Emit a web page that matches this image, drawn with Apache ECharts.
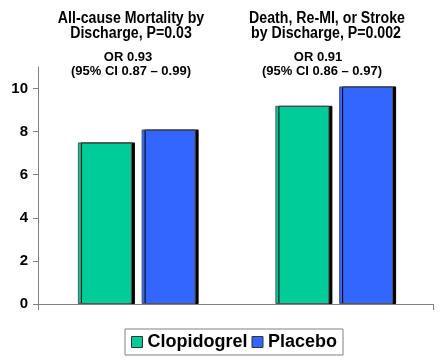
<!DOCTYPE html>
<html>
<head>
<meta charset="utf-8">
<script src="https://cdn.jsdelivr.net/npm/echarts@6/dist/echarts.min.js"></script>
<style>
html,body{margin:0;padding:0;background:#fff;}
#c{width:444px;height:363px;}
</style>
</head>
<body>
<div id="c"></div>
<script>
var categories = ['All-cause Mortality by Discharge', 'Death, Re-MI, or Stroke by Discharge'];
var clopidogrel = [7.5, 9.2];
var placebo = [8.1, 10.1];
var yTicks = [0, 2, 4, 6, 8, 10];
var titleLines1 = ['All-cause Mortality by', 'Discharge, P=0.03'];
var titleLines2 = ['Death, Re-MI, or Stroke', 'by Discharge, P=0.002'];
var orLines1 = ['OR 0.93', '(95% CI 0.87 \u2013 0.99)'];
var orLines2 = ['OR 0.91', '(95% CI 0.86 \u2013 0.97)'];

var FONT = 'Liberation Sans, Arial, sans-serif';
var chart = echarts.init(document.getElementById('c'), null, {renderer: 'canvas'});

function bigText(t, x, y) {
  return {type: 'text', x: x, y: y, scaleX: 0.885, z: 10,
    style: {text: t, x: 0, y: 0, textAlign: 'center', textVerticalAlign: 'middle',
      fontFamily: FONT, fontWeight: 'bold', fontSize: 16, fill: '#000'}};
}
function smallText(t, x, y) {
  return {type: 'text', x: x, y: y, z: 10,
    style: {text: t, x: 0, y: 0, textAlign: 'center', textVerticalAlign: 'middle',
      fontFamily: FONT, fontWeight: 'bold', fontSize: 13, fill: '#000'}};
}

var barStyle = function (color) {
  return {color: color, borderColor: '#555', borderWidth: 1,
    shadowColor: '#000', shadowBlur: 0, shadowOffsetX: 3, shadowOffsetY: 0};
};

chart.setOption({
  animation: false,
  backgroundColor: '#fff',
  grid: {left: 38, right: 11, top: 67, bottom: 59, containLabel: false},
  graphic: [
    bigText(titleLines1[0], 131, 18.2),
    bigText(titleLines1[1], 131, 33.8),
    bigText(titleLines2[0], 327, 18.2),
    bigText(titleLines2[1], 326, 33.8),
    smallText(orLines1[0], 128, 57.5),
    smallText(orLines1[1], 131, 71.5),
    smallText(orLines2[0], 318, 57.5),
    smallText(orLines2[1], 322, 71.5)
  ],
  legend: {
    left: 125, top: 329,
    padding: [4, 6, 4, 6],
    borderColor: '#808080', borderWidth: 1,
    itemWidth: 11, itemHeight: 11, itemGap: 4,
    icon: 'rect',
    itemStyle: {borderColor: '#333', borderWidth: 1, shadowBlur: 0, shadowOffsetX: 0, shadowOffsetY: 0, shadowColor: 'rgba(0,0,0,0)'},
    textStyle: {fontFamily: FONT, fontWeight: 'bold', fontSize: 18, color: '#000', padding: [0, 0, 0, 0]},
    data: ['Clopidogrel', 'Placebo']
  },
  xAxis: {
    type: 'category',
    data: categories,
    axisLine: {lineStyle: {color: '#808080', width: 1}},
    axisTick: {show: true, length: 6, lineStyle: {color: '#808080'}},
    axisLabel: {show: false},
    splitLine: {show: false}
  },
  yAxis: {
    type: 'value',
    min: 0, max: 11, interval: 2,
    axisLine: {show: true, lineStyle: {color: '#808080', width: 1}},
    axisTick: {show: true, length: 5, lineStyle: {color: '#808080'}, customValues: yTicks},
    axisLabel: {fontFamily: FONT, fontWeight: 'bold', fontSize: 15, color: '#000', margin: 10, customValues: yTicks},
    splitLine: {show: false}
  },
  series: [
    {name: 'Clopidogrel', type: 'bar', data: clopidogrel, barWidth: 54, barGap: '18%',
      itemStyle: barStyle('#00CC99')},
    {name: 'Placebo', type: 'bar', data: placebo, barWidth: 54, barGap: '18%',
      itemStyle: barStyle('#3366FF')}
  ]
});
</script>
</body>
</html>
